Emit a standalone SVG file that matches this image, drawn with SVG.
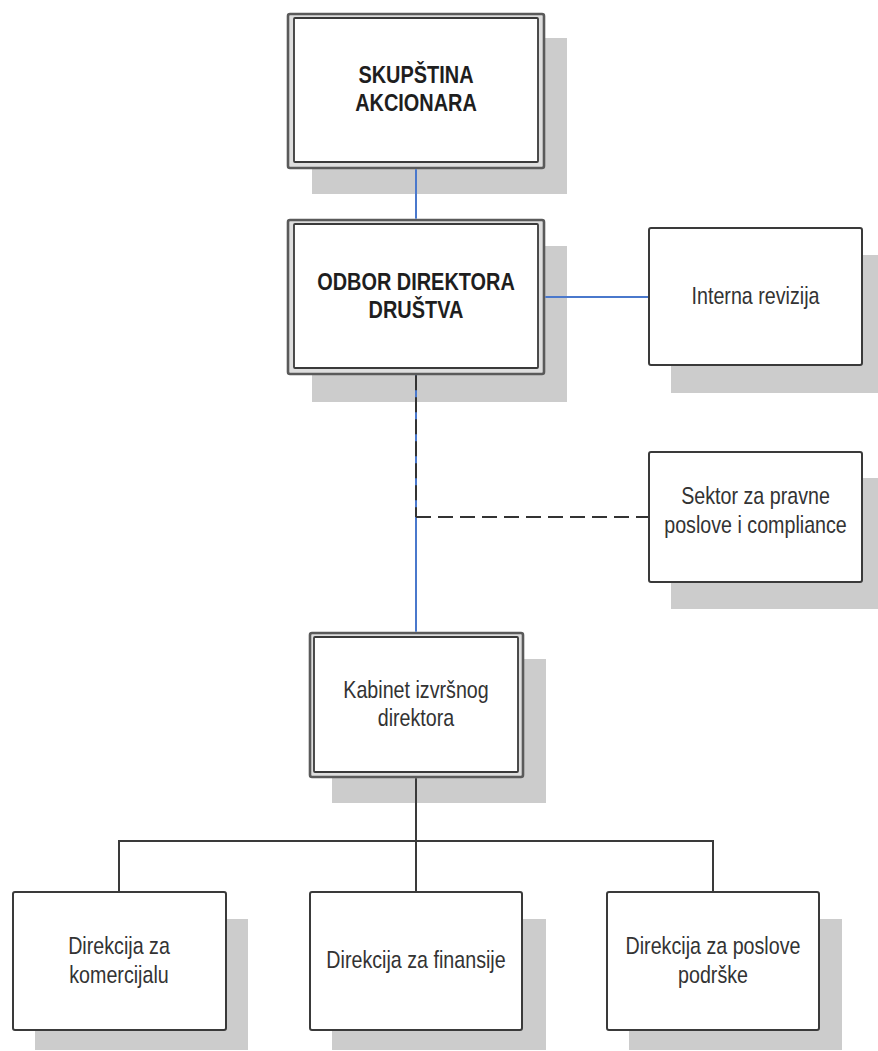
<svg xmlns="http://www.w3.org/2000/svg" width="878" height="1051" viewBox="0 0 878 1051">
<defs>
<style>
.sh{fill:#cccccc;stroke:none}
.dbo{fill:#dedede;stroke:#5a5a5a;stroke-width:2.6}
.dbi{fill:#ffffff;stroke:#3a3a3a;stroke-width:1.8}
.box{fill:#ffffff;stroke:#3a3a3a;stroke-width:2}
.t{font-family:"Liberation Sans",Arial,sans-serif;font-size:24px;fill:#333333;text-anchor:middle}
.b{font-weight:bold;fill:#1e1e1e}
.blue{fill:none;stroke:#4a78cc;stroke-width:2}
.blk{fill:none;stroke:#3a3a3a;stroke-width:2}
.dash{fill:none;stroke:#333333;stroke-width:2;stroke-dasharray:15 7}
</style>
</defs>
<rect width="878" height="1051" fill="#ffffff"/>

<g id="skupstina">
<rect class="sh" x="312" y="38" width="255" height="156"/>
<rect class="dbo" x="288" y="14" width="256" height="154" rx="2"/>
<rect class="dbi" x="294" y="18" width="244" height="144" rx="1"/>
<text class="t b" transform="translate(416 83) scale(0.83 1)">SKUPŠTINA</text>
<text class="t b" transform="translate(416 111) scale(0.83 1)">AKCIONARA</text>
</g>

<g id="odbor">
<rect class="sh" x="312" y="246" width="255" height="156"/>
<rect class="dbo" x="288" y="220" width="256" height="154" rx="2"/>
<rect class="dbi" x="294" y="224" width="244" height="144" rx="1"/>
<text class="t b" transform="translate(416 290) scale(0.83 1)">ODBOR DIREKTORA</text>
<text class="t b" transform="translate(416 318) scale(0.83 1)">DRUŠTVA</text>
</g>

<g id="interna">
<rect class="sh" x="671" y="255" width="210" height="138"/>
<rect class="box" x="649" y="228" width="213" height="137" rx="2"/>
<text class="t" transform="translate(755.5 304) scale(0.82 1)">Interna revizija</text>
</g>

<g id="sektor">
<rect class="sh" x="671" y="478" width="210" height="131"/>
<rect class="box" x="649" y="452" width="213" height="130" rx="2"/>
<text class="t" transform="translate(755.5 504) scale(0.82 1)">Sektor za pravne</text>
<text class="t" transform="translate(755.5 533) scale(0.82 1)">poslove i compliance</text>
</g>

<g id="kabinet">
<rect class="sh" x="332" y="659" width="214" height="144"/>
<rect class="dbo" x="310" y="633" width="213" height="144" rx="2"/>
<rect class="dbi" x="314" y="637" width="204" height="135" rx="1"/>
<text class="t" transform="translate(416 698) scale(0.82 1)">Kabinet izvršnog</text>
<text class="t" transform="translate(416 726) scale(0.82 1)">direktora</text>
</g>

<g id="komercijala">
<rect class="sh" x="35" y="919" width="213" height="131"/>
<rect class="box" x="13" y="892" width="213" height="138" rx="2"/>
<text class="t" transform="translate(119 954) scale(0.82 1)">Direkcija za</text>
<text class="t" transform="translate(119 983) scale(0.82 1)">komercijalu</text>
</g>

<g id="finansije">
<rect class="sh" x="332" y="919" width="214" height="131"/>
<rect class="box" x="310" y="892" width="212" height="138" rx="2"/>
<text class="t" transform="translate(416 968) scale(0.82 1)">Direkcija za finansije</text>
</g>

<g id="podrska">
<rect class="sh" x="629" y="919" width="213" height="131"/>
<rect class="box" x="607" y="892" width="212" height="138" rx="2"/>
<text class="t" transform="translate(713 954) scale(0.82 1)">Direkcija za poslove</text>
<text class="t" transform="translate(713 983) scale(0.82 1)">podrške</text>
</g>

<g id="connectors">
<line class="blue" x1="416" y1="169.3" x2="416" y2="218.7"/>
<line class="blue" x1="545.3" y1="297" x2="648" y2="297"/>
<line class="blue" x1="416" y1="375.3" x2="416" y2="631.7"/>
<line class="dash" x1="416" y1="375.3" x2="416" y2="517"/>
<line class="dash" x1="416" y1="517" x2="648" y2="517"/>
<polyline class="blk" points="416,778.3 416,841"/>
<polyline class="blk" points="119,891 119,841 713,841 713,891"/>
<line class="blk" x1="416" y1="841" x2="416" y2="891"/>
</g>
</svg>
